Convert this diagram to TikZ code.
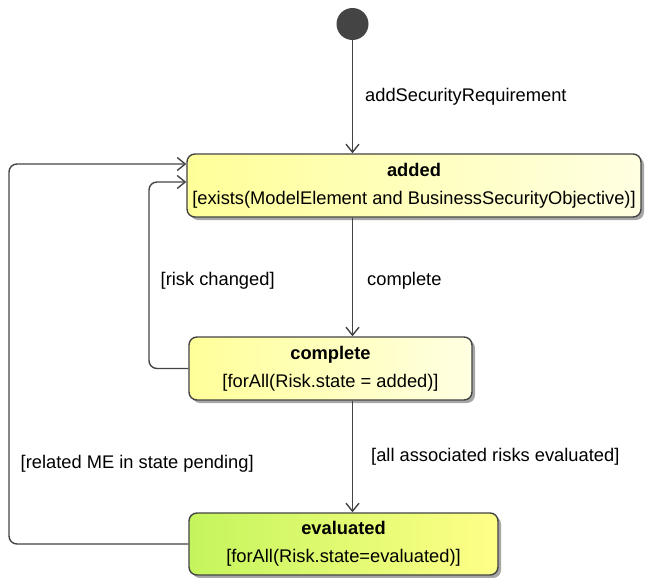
\documentclass[tikz,border=0pt]{standalone}
\usepackage{fontspec}
\setmainfont{Liberation Sans}
\usetikzlibrary{positioning,shadows,arrows.meta}
\definecolor{lemon}{HTML}{FFFF99}
\definecolor{cream}{HTML}{FFFFE2}
\definecolor{lime}{HTML}{C4F55C}
\definecolor{pale}{HTML}{FFFF88}
\definecolor{edge}{HTML}{444444}

\begin{document}
\begin{tikzpicture}[x=1pt, y=-1pt,
    state/.style={draw=edge, line width=1.4pt, rounded corners=8pt, align=center,
      inner sep=0pt, left color=lemon, right color=cream,
      font=\fontsize{18.3}{28}\selectfont,
      drop shadow={shadow xshift=3pt, shadow yshift=-3pt, fill=black!35, opacity=1}},
    trans/.style={draw=edge, line width=1.4pt, -{Straight Barb[length=8pt,width=13pt]}},
    lbl/.style={font=\fontsize{18.3}{22}\selectfont, inner sep=0pt}]
  \useasboundingbox (0,0) rectangle (645,578);
  % states
  \node[fill=edge, circle, minimum size=32pt, inner sep=0pt] (start) at (352.5,24) {};
  \node[state, minimum width=454pt, minimum height=63pt] (added) at (414,185.5)
    {\textbf{added}\\{[}exists(ModelElement and BusinessSecurityObjective)]};
  \node[state, minimum width=283pt, minimum height=63pt] (complete) at (330.5,368.5)
    {\textbf{complete}\\{[}forAll(Risk.state = added)]};
  \node[state, left color=lime, right color=pale, minimum width=309pt, minimum height=62pt] (evaluated) at (343.5,544)
    {\textbf{evaluated}\\{[}forAll(Risk.state=evaluated)]};
  % transitions
  \draw[trans] (start.south) -- node[lbl, right=12pt] {addSecurityRequirement} (start |- added.north);
  \draw[trans] (start |- added.south) -- node[lbl, pos=0.53, right=14pt] {complete} (start |- complete.north);
  \draw[trans] (start |- complete.south) -- node[lbl, right=18pt] {[all associated risks evaluated]} (start |- evaluated.north);
  \draw[trans, rounded corners=8pt] (complete.west) -- (149,368.5)
    -- node[lbl, pos=0.47, right=11pt] {[risk changed]} (149,182) -- (added.west |- 0,182);
  \draw[trans, rounded corners=8pt] (evaluated.west) -- (9,544)
    -- node[lbl, pos=0.21, right=11pt] {[related ME in state pending]} (9,164) -- (added.west |- 0,164);
\end{tikzpicture}
\end{document}
